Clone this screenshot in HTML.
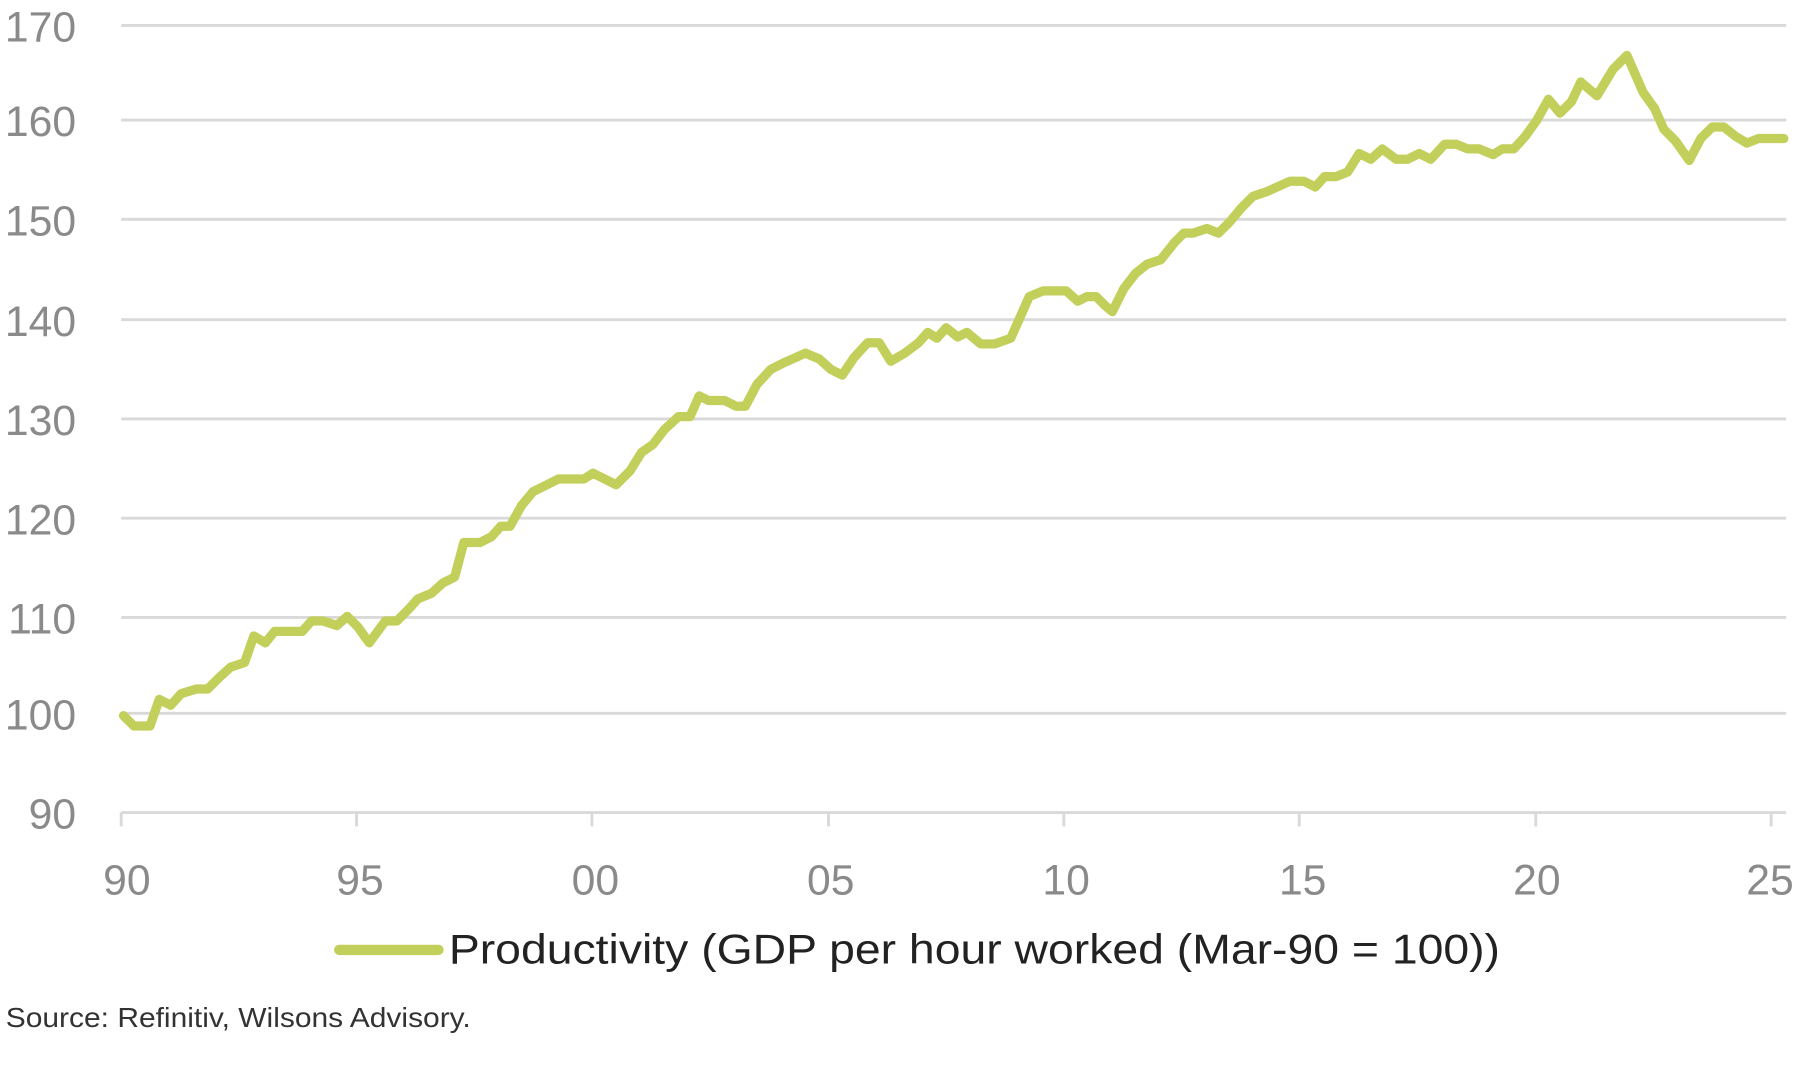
<!DOCTYPE html>
<html><head><meta charset="utf-8"><style>html,body{margin:0;padding:0;background:#fff}svg{display:block}</style></head>
<body>
<svg width="1800" height="1078" viewBox="0 0 1560 934" preserveAspectRatio="none" xmlns="http://www.w3.org/2000/svg" font-family="Liberation Sans, sans-serif">
<g stroke="#d9d9d9" stroke-width="2.5">
<line x1="105" x2="1548" y1="22" y2="22"/><line x1="105" x2="1548" y1="104" y2="104"/>
<line x1="105" x2="1548" y1="190" y2="190"/><line x1="105" x2="1548" y1="277" y2="277"/>
<line x1="105" x2="1548" y1="363" y2="363"/><line x1="105" x2="1548" y1="449" y2="449"/>
<line x1="105" x2="1548" y1="535" y2="535"/><line x1="105" x2="1548" y1="618" y2="618"/>
<line x1="105" x2="1548" y1="704" y2="704"/>
<line x1="105" x2="105" y1="704" y2="716"/><line x1="309" x2="309" y1="704" y2="716"/>
<line x1="513" x2="513" y1="704" y2="716"/><line x1="718" x2="718" y1="704" y2="716"/>
<line x1="922" x2="922" y1="704" y2="716"/><line x1="1126" x2="1126" y1="704" y2="716"/>
<line x1="1331" x2="1331" y1="704" y2="716"/><line x1="1535" x2="1535" y1="704" y2="716"/>
</g>
<g fill="#8a8a8a" font-size="37" text-anchor="end">
<text x="66" y="36">170</text><text x="66" y="118">160</text><text x="66" y="204">150</text>
<text x="66" y="291">140</text><text x="66" y="377">130</text><text x="66" y="463">120</text>
<text x="66" y="549">110</text><text x="66" y="632">100</text><text x="66" y="718">90</text>
</g>
<g fill="#8a8a8a" font-size="37" text-anchor="middle">
<text x="110" y="775">90</text><text x="312" y="775">95</text><text x="516" y="775">00</text>
<text x="720" y="775">05</text><text x="924" y="775">10</text><text x="1129" y="775">15</text>
<text x="1332" y="775">20</text><text x="1534" y="775">25</text>
</g>
<polyline fill="none" stroke="#c3cf5b" stroke-width="8" stroke-linejoin="round" stroke-linecap="round" points="107,620 116,629 130,629 138,606 148,611 157,601 170,597 180,597 190,587 200,578 212,574 220,551 230,557 238,547 262,547 270,538 280,538 292,542 301,534 310,543 320,557 334,538 344,538 354,528 362,519 374,514 384,505 394,500 402,470 416,470 426,465 434,456 442,456 452,438 462,426 474,420 484,415 506,415 514,410 524,415 534,420 546,408 556,392 566,385 576,372 588,361 598,361 606,343 614,347 628,347 638,352 646,352 656,333 668,320 680,314 698,306 710,311 720,320 730,325 740,310 752,297 762,297 772,313 784,306 796,297 804,288 812,293 820,284 830,292 838,288 850,298 862,298 876,293 884,275 892,257 904,252 924,252 934,261 942,257 950,257 958,265 964,270 974,250 984,237 994,229 1006,225 1018,210 1026,202 1034,202 1046,198 1056,202 1066,192 1076,180 1086,170 1098,166 1118,157 1130,157 1140,162 1148,153 1158,153 1168,149 1178,133 1188,138 1198,129 1210,138 1220,138 1230,133 1240,138 1252,125 1262,125 1272,129 1282,129 1294,134 1302,129 1312,129 1322,118 1332,104 1342,86 1352,98 1362,88 1370,71 1384,83 1398,60 1410,48 1424,80 1434,94 1442,112 1452,122 1464,139 1474,120 1484,110 1494,110 1504,118 1514,124 1524,120 1546,120"/>
<line x1="294" x2="380" y1="823" y2="823" stroke="#c3cf5b" stroke-width="9" stroke-linecap="round"/>
<text x="389" y="835" font-size="36" fill="#222" textLength="911" lengthAdjust="spacingAndGlyphs">Productivity (GDP per hour worked (Mar-90 = 100))</text>
<text x="5" y="890" font-size="24" fill="#333" textLength="403" lengthAdjust="spacingAndGlyphs">Source: Refinitiv, Wilsons Advisory.</text>
</svg>
</body></html>
